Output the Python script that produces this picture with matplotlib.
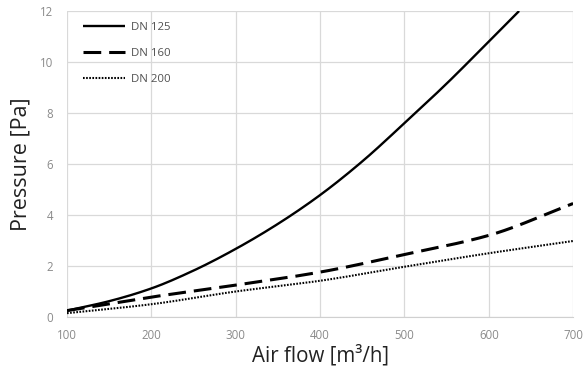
import matplotlib
matplotlib.use("Agg")
import matplotlib.pyplot as plt
import numpy as np

plt.rcParams['font.family'] = ['Open Sans', 'DejaVu Sans']

flow_125 = [100, 150, 200, 250, 300, 350, 400, 450, 500, 550, 600, 636]
dn125 = [0.25, 0.62, 1.12, 1.82, 2.67, 3.65, 4.78, 6.1, 7.6, 9.15, 10.8, 12.0]
flow = [100, 200, 300, 400, 500, 600, 700]
dn160 = [0.25, 0.78, 1.25, 1.76, 2.45, 3.2, 4.45]
dn200 = [0.15, 0.5, 1.0, 1.42, 1.97, 2.5, 2.98]
labels = ["DN 125", "DN 160", "DN 200"]
xticks = [100, 200, 300, 400, 500, 600, 700]
yticks = [0, 2, 4, 6, 8, 10, 12]

def smooth(x, y, n=200):
    x = np.asarray(x, float); y = np.asarray(y, float)
    xs = np.linspace(x[0], x[-1], n)
    h = np.diff(x); d = np.diff(y) / h
    m = np.zeros_like(y)
    m[1:-1] = np.where(d[:-1] * d[1:] > 0, 2 / (1 / d[:-1] + 1 / d[1:]), 0)
    m[0] = d[0]; m[-1] = d[-1]
    idx = np.clip(np.searchsorted(x, xs) - 1, 0, len(h) - 1)
    t = (xs - x[idx]) / h[idx]
    h00 = 2*t**3 - 3*t**2 + 1; h10 = t**3 - 2*t**2 + t
    h01 = -2*t**3 + 3*t**2; h11 = t**3 - t**2
    ys = h00*y[idx] + h10*h[idx]*m[idx] + h01*y[idx+1] + h11*h[idx]*m[idx+1]
    return xs, ys

fig = plt.figure(figsize=(5.86, 3.75), dpi=100)
ax = fig.add_axes([0.1143, 0.1547, 0.8637, 0.816])

x1, y1 = smooth(flow_125, dn125)
x2, y2 = smooth(flow, dn160)
x3, y3 = smooth(flow, dn200)
ax.plot(x1, y1, color='black', lw=1.7, label=labels[0], solid_capstyle='butt')
ax.plot(x2, y2, color='black', lw=2.2, dashes=(5.8, 2.6), label=labels[1])
ax.plot(x3, y3, color='black', lw=1.5, dashes=(0.8, 0.7), label=labels[2])

ax.set_xlim(100, 700)
ax.set_ylim(0, 12)
ax.set_xticks(xticks)
ax.set_yticks(yticks)
ax.grid(True, color='#d9d9d9', lw=0.9)
ax.set_axisbelow(True)
for s in ['top', 'right', 'left']:
    ax.spines[s].set_visible(False)
ax.spines['bottom'].set_color('#d0d0d0')
ax.tick_params(length=0, colors='#8a8a8a', labelsize=8.3)
ax.tick_params(axis='x', pad=8.5)
ax.tick_params(axis='y', pad=10)
ax.set_xlabel("Air flow [m³/h]", fontsize=14.8, color='#222222', labelpad=2)
ax.set_ylabel("Pressure [Pa]", fontsize=15.5, color='#222222', labelpad=6)

leg = ax.legend(loc='upper left', frameon=False, fontsize=8.2, handlelength=3.7,
                labelspacing=1.32, handletextpad=0.55, borderaxespad=0.0,
                borderpad=0.4, bbox_to_anchor=(0.0225, 0.9796))
for t in leg.get_texts():
    t.set_color('#505050')

fig.savefig("out.png", dpi=100)
